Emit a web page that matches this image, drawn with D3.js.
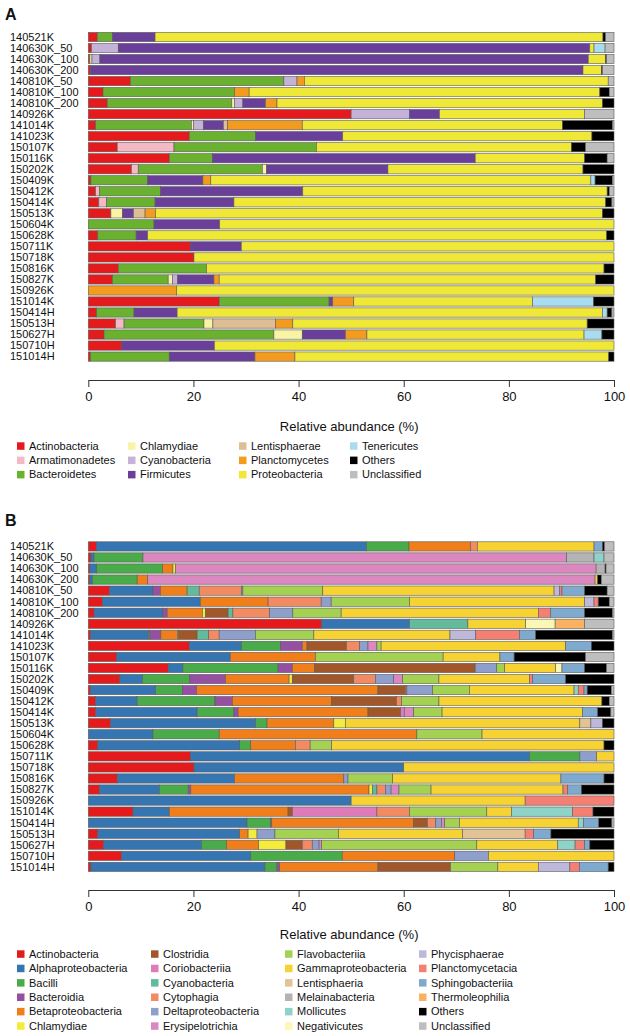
<!DOCTYPE html>
<html><head><meta charset="utf-8">
<script src="https://cdn.jsdelivr.net/npm/d3@7"></script>
<style>
body{margin:0;background:#fff}
text{font-family:"Liberation Sans",Arial,Helvetica,sans-serif;fill:#111}
</style></head>
<body><svg id="chart" width="630" height="1036"></svg>
<script>
// ---------- DATA ----------
const samples = ["140521K","140630K_50","140630K_100","140630K_200","140810K_50","140810K_100","140810K_200","140926K","141014K","141023K","150107K","150116K","150202K","150409K","150412K","150414K","150513K","150604K","150628K","150711K","150718K","150816K","150827K","150926K","151014K","150414H","150513H","150627H","150710H","151014H"];
const tickValues = [0, 20, 40, 60, 80, 100];
const axisTitle = "Relative abundance (%)";

// Panel A: phyla
const phylaA = ["Actinobacteria","Armatimonadetes","Bacteroidetes","Chlamydiae","Cyanobacteria","Firmicutes","Lentisphaerae","Planctomycetes","Proteobacteria","Tenericutes","Others","Unclassified"];
const colorsA = ["#E41A1C","#F5B8C5","#69B12F","#F8F4A4","#C4B2D9","#6A3F99","#DFBE93","#F29B1E","#F0E837","#A9DCEE","#000000","#BEBEBE"];
const A_Actinobacteria  = [1.7,0.6,0.3,0.4,8.0,2.8,3.6,50.0,1.4,19.2,5.5,15.4,8.2,0.5,1.4,2.0,4.3,0,1.8,19.4,20.1,5.7,4.6,0,24.9,1.6,5.2,3.0,6.3,0.4];
const A_Armatimonadetes = [0,0,0,0,0,0,0,0,0,0,10.8,0,1.3,0,0.7,1.5,0,0,0,0,0,0,0,0,0,0,1.6,0,0,0];
const A_Bacteroidetes   = [2.9,0,0,0,29.2,25.0,23.7,0,18.2,12.6,27.1,8.2,23.6,10.8,11.6,9.2,0,12.5,7.3,0,0,16.8,10.6,0,20.9,7.1,15.2,32.3,0,15.0];
const A_Chlamydiae      = [0,0,0.4,0,0,0,0.5,0,0.4,0,0,0,0.8,0,0,0,2.2,0,0,0,0,0,0.8,0,0,0,1.7,5.4,0,0];
const A_Cyanobacteria   = [0,5.1,1.5,0,2.5,0,1.6,11.1,1.9,0,0,0,0,0,0,0,0,0,0,0,0,0,1.0,0,0,0,0,0,0,0];
const A_Firmicutes      = [8.1,89.7,92.9,93.7,0,0,4.3,5.7,3.8,16.6,0,50.0,23.1,10.5,27.1,15.0,2.1,12.5,2.2,9.7,0,0,6.9,0,0.7,8.2,0,8.2,17.7,16.3];
const A_Lentisphaerae   = [0,0,0,0,0,0,0,0,0.8,0,0,0,0,0,0,0,2.2,0,0,0,0,0,0,0,0,0,11.9,0,0,0];
const A_Planctomycetes  = [0,0,0,0,1.4,2.8,2.2,0,14.2,0,0,0,0,1.5,0,0,2.0,0,0,0,0,0,1.0,16.8,4.0,0,3.3,4.1,0,7.6];
const A_Proteobacteria  = [85.2,0.8,3.3,3.5,57.8,66.7,61.9,27.6,49.5,47.4,48.5,20.8,37.1,72.3,57.9,70.7,85.0,75.0,87.3,70.9,79.9,75.6,71.6,83.2,34.0,80.9,56.0,41.3,76.0,59.7];
const A_Tenericutes     = [0,2.1,0,0,0,0,0,0,0,0,0,0,0,0.8,0,0,0,0,0,0,0,0,0,0,11.6,0.9,0,3.4,0,0];
const A_Others          = [0.5,0,0.2,0.2,0,1.8,2.2,0,9.5,4.2,2.7,4.3,5.9,3.3,0.4,1.2,2.2,0,1.4,0,0,1.9,3.5,0,3.9,0.9,5.1,2.3,0,1.0];
const A_Unclassified    = [1.6,1.7,1.4,2.2,1.1,0.9,0,5.6,0.3,0,5.4,1.3,0,0.3,0.9,0.4,0,0,0,0,0,0,0,0,0,0.4,0,0,0,0];

// Panel B: classes
const classesB = ["Actinobacteria","Alphaproteobacteria","Bacilli","Bacteroidia","Betaproteobacteria","Chlamydiae","Clostridia","Coriobacteriia","Cyanobacteria","Cytophagia","Deltaproteobacteria","Erysipelotrichia","Flavobacteriia","Gammaproteobacteria","Lentisphaeria","Melainabacteria","Mollicutes","Negativicutes","Phycisphaerae","Planctomycetacia","Sphingobacteriia","Thermoleophilia","Others","Unclassified"];
const colorsB = ["#E41A1C","#3575B2","#4AAB4A","#9550A2","#F07E1B","#F4EC3A","#A2572A","#E07BBA","#62BC9C","#F28B62","#8E9FCC","#DC88C0","#A5D152","#F6D232","#E3C394","#B3B3B3","#8DD3C7","#FBF7B4","#BEB9DA","#F47F72","#7FAAD0","#F9B261","#000000","#BEBEBE"];
const B_Actinobacteria      = [1.6,0.5,0.3,0.3,4.0,2.7,1.1,44.4,0.4,19.2,5.4,15.2,6.0,0.4,1.4,1.4,4.2,0,1.8,19.4,20.1,5.5,2.1,0,8.5,0,1.8,2.9,6.3,0.5];
const B_Alphaproteobacteria = [51.3,0.6,1.3,0.5,8.3,18.6,13.1,16.7,11.0,9.9,21.6,2.8,4.3,12.4,7.9,19.3,27.6,12.3,27.0,64.5,39.9,22.3,11.4,50.0,6.9,30.2,27.0,18.6,24.6,33.1];
const B_Bacilli             = [8.1,9.3,12.5,8.5,0,0,0,0,0.3,7.5,0,18.1,9.0,5.1,14.8,7.0,2.2,12.6,2.1,9.6,0,0,5.5,0,0,4.5,0,4.8,17.4,2.3];
const B_Bacteroidia         = [0,0,0,0,1.4,0,0.8,0,2.1,4.1,0,2.7,6.8,2.7,3.3,0.8,0,0,0,0,0,0,0.5,0,0,0.2,0,0,0,0.5];
const B_Betaproteobacteria  = [11.7,0,2.0,2.0,5.1,12.9,6.7,0,3.2,0.9,16.2,4.2,12.1,34.5,18.9,24.7,12.7,37.6,8.5,0,0,20.8,33.9,0,22.6,27.0,1.6,6.1,21.4,18.7];
const B_Chlamydiae          = [0,0,0.5,0,0,0,0.6,0,0.2,0,0,0,0.6,0,0,0,2.2,0,0,0,0,0,0.7,0,0,0,1.7,5.2,0,0];
const B_Clostridia          = [0,0,0,0,0,0,4.3,0,3.5,7.5,0,30.6,11.7,5.2,12.3,6.2,0,0,0,0,0,0,0,0,0.8,2.6,0,3.1,0,13.8];
const B_Coriobacteriia      = [0,0,0,0,0,0,0,0,0,0,0,0,0,0.3,0,0.7,0,0,0,0,0,0,0,0,16.1,0,0,0,0,0];
const B_Cyanobacteria       = [0,0,0,0,2.3,0,0.9,11.1,2.2,0,0,0,0,0,0,0,0,0,0,0,0,0,0.8,0,0,0,0,0,0,0];
const B_Cytophagia          = [1.3,0,0,0,8.0,10.1,7.0,0,2.0,2.5,0,0,4.1,0,1.0,0,0,0,2.8,0,0,0,1.6,0,6.2,1.6,0,1.9,0,0];
const B_Deltaproteobacteria = [0,0,0,0,0.3,1.9,4.4,0,6.9,1.6,0,4.1,3.5,4.9,0,0,0,0,0,3.2,0,0.8,1.1,0,0,1.1,3.4,1.3,6.4,0];
const B_Erysipelotrichia    = [0,80.6,80.0,85.1,0,0,0,0,0,1.7,0,0,1.7,0,0,1.8,0,0,0,0,0,0,1.5,0,0,0.6,0,0.5,0,0];
const B_Flavobacteriia      = [0,0,0,0,15.2,14.9,9.2,0,11.1,0.8,24.3,1.5,6.9,7.0,7.1,5.4,0,12.4,4.1,0,0,8.5,6.1,0,14.7,2.8,12.1,29.5,0,9.0];
const B_Gammaproteobacteria = [22.2,0,0,0.5,44.0,33.3,37.5,11.0,25.9,35.1,10.8,9.7,17.2,19.9,31.0,26.7,44.6,25.1,51.8,3.3,40.0,32.0,25.1,33.1,4.7,22.6,23.6,15.4,23.9,7.7];
const B_Lentisphaeria       = [0,0,0,0,0,0,0,0,0,0,0,0,0,0,0,0,2.1,0,0,0,0,0,0,0,0,0,11.9,0,0,0];
const B_Melainabacteria     = [0,5.2,1.7,0,0,0,0,0,0,0,0,0,0,0,0,0,0,0,0,0,0,0,0,0,0,0,0,0,0,0];
const B_Mollicutes          = [0,1.9,0,0,0,0,0,0,0,0,0,0,0,0.8,0,0,0,0,0,0,0,0,0,0,11.6,1.0,0,3.3,0,0];
const B_Negativicutes       = [0,0,0,0,0,0,0,5.6,0,0,0,1.2,0,0,0,0,0,0,0,0,0,0,0,0,0,0,0,0,0,0];
const B_Phycisphaerae       = [0,0,0,0,1.0,1.8,0,0,4.9,0,0,0,0,0,0,0,2.2,0,0,0,0,0,0,0,0,0,0,0,0,6.0];
const B_Planctomycetacia    = [0,0,0,0,0.5,0.8,2.3,0,8.3,0,0,0,0.6,1.1,0,0,0,0,0,0,0,0,0.9,16.9,3.9,0,1.6,1.8,0,1.8];
const B_Sphingobacteriia    = [1.6,0,0,0,4.3,0,6.5,0,3.1,4.9,2.7,4.3,6.3,0.6,0,2.9,0,0,0,0,0,8.2,2.6,0,0,2.9,3.3,1.0,0,5.5];
const B_Thermoleophilia     = [0,0,0,0,0,0,0,5.6,0,0,0,0,0,0,0,0,0,0,0,0,0,0,0,0,0,0,0,0,0,0];
const B_Others              = [0.4,0,0.2,0.7,4.3,2.1,5.3,0,14.6,4.3,13.6,4.2,9.2,4.6,1.4,2.5,2.2,0,1.9,0,0,1.9,6.2,0,4.0,2.5,12.0,4.6,0,1.1];
const B_Unclassified        = [1.8,1.9,1.5,2.4,1.3,0.9,0.3,5.6,0.3,0,5.4,1.4,0,0.5,0.9,0.6,0,0,0,0,0,0,0,0,0,0.4,0,0,0,0];

const seriesA = [A_Actinobacteria,A_Armatimonadetes,A_Bacteroidetes,A_Chlamydiae,A_Cyanobacteria,A_Firmicutes,A_Lentisphaerae,A_Planctomycetes,A_Proteobacteria,A_Tenericutes,A_Others,A_Unclassified];
const seriesB = [B_Actinobacteria,B_Alphaproteobacteria,B_Bacilli,B_Bacteroidia,B_Betaproteobacteria,B_Chlamydiae,B_Clostridia,B_Coriobacteriia,B_Cyanobacteria,B_Cytophagia,B_Deltaproteobacteria,B_Erysipelotrichia,B_Flavobacteriia,B_Gammaproteobacteria,B_Lentisphaeria,B_Melainabacteria,B_Mollicutes,B_Negativicutes,B_Phycisphaerae,B_Planctomycetacia,B_Sphingobacteriia,B_Thermoleophilia,B_Others,B_Unclassified];

// ---------- DRAW ----------
const svg = d3.select("#chart");
const x = d3.scaleLinear().domain([0, 100]).range([88.3, 614]);

function panel(cfg) {
  const {letter, letterY, keys, series, colors, yTop, step, labelSize, axisY, titleY, legendY, legendCols, legendStep, legendFont} = cfg;
  const g = svg.append("g");
  g.append("text").attr("x", 5).attr("y", letterY).attr("font-size", 16).attr("font-weight", "bold").text(letter);

  const table = samples.map((s, i) => {
    const o = {sample: s};
    keys.forEach((k, j) => o[k] = series[j][i]);
    return o;
  });
  const stacked = d3.stack().keys(keys)(table);
  const y = d3.scaleBand().domain(samples).range([yTop, yTop + step * samples.length]).paddingInner(0.16).paddingOuter(0.08);
  const color = d3.scaleOrdinal().domain(keys).range(colors);

  g.selectAll("g.layer").data(stacked).join("g").attr("class", "layer")
    .attr("fill", d => color(d.key))
    .selectAll("rect").data(d => d.filter(p => p[1] - p[0] > 0)).join("rect")
    .attr("x", p => x(p[0]))
    .attr("width", p => x(p[1]) - x(p[0]))
    .attr("y", p => y(p.data.sample))
    .attr("height", y.bandwidth())
    .attr("stroke", "#5c5c5c")
    .attr("stroke-width", 0.6);

  g.selectAll("text.samp").data(samples).join("text").attr("class", "samp")
    .attr("x", 10).attr("y", s => y(s) + y.bandwidth() / 2)
    .attr("dy", "0.35em").attr("font-size", labelSize).text(s => s);

  const ax = g.append("g").attr("transform", `translate(0,${axisY})`)
    .call(d3.axisBottom(x).tickValues(tickValues).tickSize(7).tickSizeOuter(0).tickPadding(5));
  ax.select(".domain").attr("stroke", "#333");
  ax.selectAll(".tick line").attr("stroke", "#333");
  ax.selectAll(".tick text").attr("font-size", 13).attr("fill", "#111")
    .style("font-family", '"Liberation Sans",Arial,sans-serif');

  g.append("text").attr("x", (x(0) + x(100)) / 2 - 2).attr("y", titleY).attr("text-anchor", "middle")
    .attr("dy", "0.35em").attr("font-size", 13).text(axisTitle);

  const rows = Math.ceil(keys.length / legendCols.length);
  const lg = g.selectAll("g.leg").data(keys).join("g").attr("class", "leg")
    .attr("transform", (k, i) => `translate(${legendCols[Math.floor(i / rows)]},${legendY + (i % rows) * legendStep})`);
  lg.append("rect").attr("x", 0).attr("y", -3.7).attr("width", 7.5).attr("height", 7.5).attr("fill", k => color(k));
  lg.append("text").attr("x", 12).attr("y", 0).attr("dy", "0.35em").attr("font-size", legendFont).text(k => k);
}

panel({letter: "A", letterY: 20, keys: phylaA, series: seriesA, colors: colorsA,
  yTop: 31.5, step: 11.02, labelSize: 11, axisY: 380, titleY: 426, legendY: 446,
  legendCols: [17, 128, 239, 350], legendStep: 14.3, legendFont: 11});
panel({letter: "B", letterY: 526, keys: classesB, series: seriesB, colors: colorsB,
  yTop: 540.9, step: 11.05, labelSize: 11, axisY: 890, titleY: 934, legendY: 954,
  legendCols: [17, 151, 285, 419], legendStep: 14.4, legendFont: 11});
</script>
</body></html>
